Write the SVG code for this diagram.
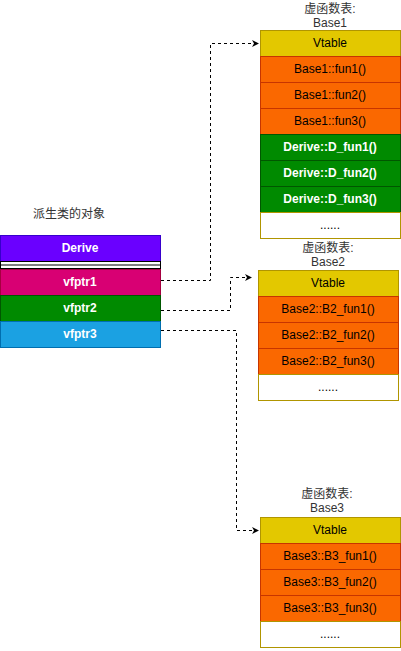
<svg xmlns="http://www.w3.org/2000/svg" width="401" height="651" viewBox="0 0 401 651">
<style>
text{font-family:"Liberation Sans","Noto Sans CJK SC",sans-serif;font-size:12px;text-anchor:middle;dominant-baseline:central}
.dk{fill:#000}
.wt{fill:#fff;font-weight:bold}
.ttl{fill:#333}
.vt{fill:#e3c800;stroke:#b09500}
.or{fill:#fa6800;stroke:#c73500}
.gr{fill:#008a00;stroke:#005700}
.wh{fill:#fff;stroke:#b09500}
.cn{fill:none;stroke:#000;stroke-dasharray:3 3}
</style>
<defs>
<marker id="ar" markerWidth="8" markerHeight="8" refX="7" refY="4" orient="auto" markerUnits="userSpaceOnUse">
<path d="M0,0.5 L7,4 L0,7.5 L2,4 Z" fill="#000"/>
</marker>
</defs>
<rect width="401" height="651" fill="#fff"/>

<g id="derive-obj">
<text class="ttl" x="69" y="214">派生类的对象</text>
<rect x="0.5" y="235.5" width="160" height="26" fill="#6a00ff" stroke="#3700cc"/>
<text class="wt" x="80" y="248">Derive</text>
<rect x="0.5" y="261.5" width="160" height="7" fill="#fff" stroke="#000"/>
<line x1="0.5" y1="265" x2="160.5" y2="265" stroke="#000"/>
<rect x="0.5" y="269.5" width="160" height="26" fill="#d80073" stroke="#a50040"/>
<text class="wt" x="80" y="282">vfptr1</text>
<rect x="0.5" y="295.5" width="160" height="26" fill="#008a00" stroke="#005700"/>
<text class="wt" x="80" y="308">vfptr2</text>
<rect x="0.5" y="321.5" width="160" height="26" fill="#1ba1e2" stroke="#006eaf"/>
<text class="wt" x="80" y="334">vfptr3</text>
</g>

<g id="base1">
<text class="ttl" x="330" y="9">虚函数表:</text>
<text class="ttl" x="330" y="23">Base1</text>
<rect class="vt" x="260.5" y="30.5" width="140" height="26"/>
<text class="dk" x="330" y="43">Vtable</text>
<rect class="or" x="260.5" y="56.5" width="140" height="26"/>
<text class="dk" x="330" y="69">Base1::fun1()</text>
<rect class="or" x="260.5" y="82.5" width="140" height="26"/>
<text class="dk" x="330" y="95">Base1::fun2()</text>
<rect class="or" x="260.5" y="108.5" width="140" height="26"/>
<text class="dk" x="330" y="121">Base1::fun3()</text>
<rect class="gr" x="260.5" y="134.5" width="140" height="26"/>
<text class="wt" x="330" y="147">Derive::D_fun1()</text>
<rect class="gr" x="260.5" y="160.5" width="140" height="26"/>
<text class="wt" x="330" y="173">Derive::D_fun2()</text>
<rect class="gr" x="260.5" y="186.5" width="140" height="26"/>
<text class="wt" x="330" y="199">Derive::D_fun3()</text>
<rect class="wh" x="260.5" y="212.5" width="140" height="26"/>
<text class="dk" x="330" y="225">......</text>
</g>

<g id="base2">
<text class="ttl" x="328" y="248">虚函数表:</text>
<text class="ttl" x="328" y="262">Base2</text>
<rect class="vt" x="258.5" y="270.5" width="140" height="26"/>
<text class="dk" x="328" y="283">Vtable</text>
<rect class="or" x="258.5" y="296.5" width="140" height="26"/>
<text class="dk" x="328" y="309">Base2::B2_fun1()</text>
<rect class="or" x="258.5" y="322.5" width="140" height="26"/>
<text class="dk" x="328" y="335">Base2::B2_fun2()</text>
<rect class="or" x="258.5" y="348.5" width="140" height="26"/>
<text class="dk" x="328" y="361">Base2::B2_fun3()</text>
<rect class="wh" x="258.5" y="374.5" width="140" height="26"/>
<text class="dk" x="328" y="387">......</text>
</g>

<g id="base3">
<text class="ttl" x="327" y="494">虚函数表:</text>
<text class="ttl" x="327" y="508">Base3</text>
<rect class="vt" x="260.5" y="517.5" width="140" height="26"/>
<text class="dk" x="330" y="530">Vtable</text>
<rect class="or" x="260.5" y="543.5" width="140" height="26"/>
<text class="dk" x="330" y="556">Base3::B3_fun1()</text>
<rect class="or" x="260.5" y="569.5" width="140" height="26"/>
<text class="dk" x="330" y="582">Base3::B3_fun2()</text>
<rect class="or" x="260.5" y="595.5" width="140" height="26"/>
<text class="dk" x="330" y="608">Base3::B3_fun3()</text>
<rect class="wh" x="260.5" y="621.5" width="140" height="26"/>
<text class="dk" x="330" y="634">......</text>
</g>

<g id="connectors">
<path class="cn" d="M161,280.5 H210.5 V43.5 H259" marker-end="url(#ar)"/>
<path class="cn" d="M161,310.5 H230.5 V277.5 H252" marker-end="url(#ar)"/>
<path class="cn" d="M161,330.5 H236.5 V530.5 H259" marker-end="url(#ar)"/>
</g>
</svg>
